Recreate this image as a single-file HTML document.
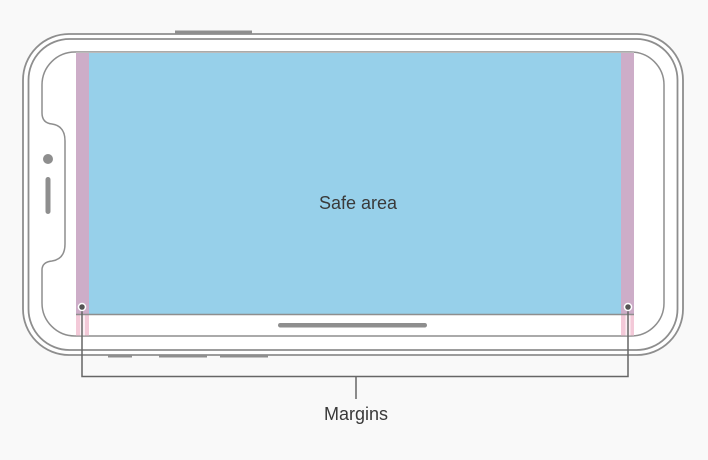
<!DOCTYPE html>
<html><head><meta charset="utf-8"><style>
html,body{margin:0;padding:0;background:#f9f9f9;width:708px;height:460px;overflow:hidden}
svg{display:block}
text{font-family:"Liberation Sans",sans-serif;fill:#3a3a3a}
</style></head><body>
<svg width="708" height="460" viewBox="0 0 708 460">
<rect x="175" y="30.5" width="77" height="3" fill="#8e8e8e"/>
<rect x="108" y="355" width="24" height="2.5" fill="#8e8e8e"/>
<rect x="159" y="355" width="48" height="2.5" fill="#8e8e8e"/>
<rect x="220" y="355" width="48" height="2.5" fill="#8e8e8e"/>
<rect x="23" y="34" width="660" height="321" rx="46" fill="#fff" stroke="#8e8e8e" stroke-width="1.8"/>
<rect x="28.5" y="39" width="649" height="311" rx="41" fill="#fff" stroke="#8e8e8e" stroke-width="1.8"/>
<path d="M75,52 H631 A33,33 0 0 1 664,85 V303 A33,33 0 0 1 631,336 H75 A33,33 0 0 1 42,303 V270 Q42,262 52,261 Q65,259 65,244 V141 Q65,126 52,124 Q42,123 42,113 V85 A33,33 0 0 1 75,52 Z" fill="#fff" stroke="#8e8e8e" stroke-width="1.5"/>
<rect x="89" y="53" width="532" height="261" fill="#97d0ea"/>
<rect x="76" y="53" width="13" height="261" fill="#cdadc8"/>
<rect x="621" y="53" width="13" height="261" fill="#cdadc8"/>
<rect x="76" y="315" width="13" height="20.5" fill="#f3c9d8"/>
<rect x="621" y="315" width="13" height="20.5" fill="#f3c9d8"/>
<rect x="80" y="315" width="5" height="20.5" fill="#fbeef3"/>
<rect x="625.5" y="315" width="5" height="20.5" fill="#fbeef3"/>
<line x1="76" y1="52.5" x2="634" y2="52.5" stroke="#bbb" stroke-width="1"/>
<line x1="76" y1="314.5" x2="634" y2="314.5" stroke="#8e8e8e" stroke-width="1.5"/>
<rect x="278" y="323" width="149" height="4.5" rx="2.2" fill="#8e8e8e"/>
<circle cx="48" cy="159" r="5" fill="#8e8e8e"/>
<rect x="45.5" y="177" width="5" height="37" rx="2.5" fill="#8e8e8e"/>
<text x="358" y="209" font-size="18" text-anchor="middle">Safe area</text>
<polyline points="82,307 82,376.5 628,376.5 628,307" fill="none" stroke="#666" stroke-width="1.5"/>
<line x1="356" y1="376" x2="356" y2="399" stroke="#666" stroke-width="1.5"/>
<circle cx="82" cy="307" r="3.5" fill="#555" stroke="#fff" stroke-width="1.5"/>
<circle cx="628" cy="307" r="3.5" fill="#555" stroke="#fff" stroke-width="1.5"/>
<text x="356" y="420" font-size="18" text-anchor="middle">Margins</text>
</svg>
</body></html>
